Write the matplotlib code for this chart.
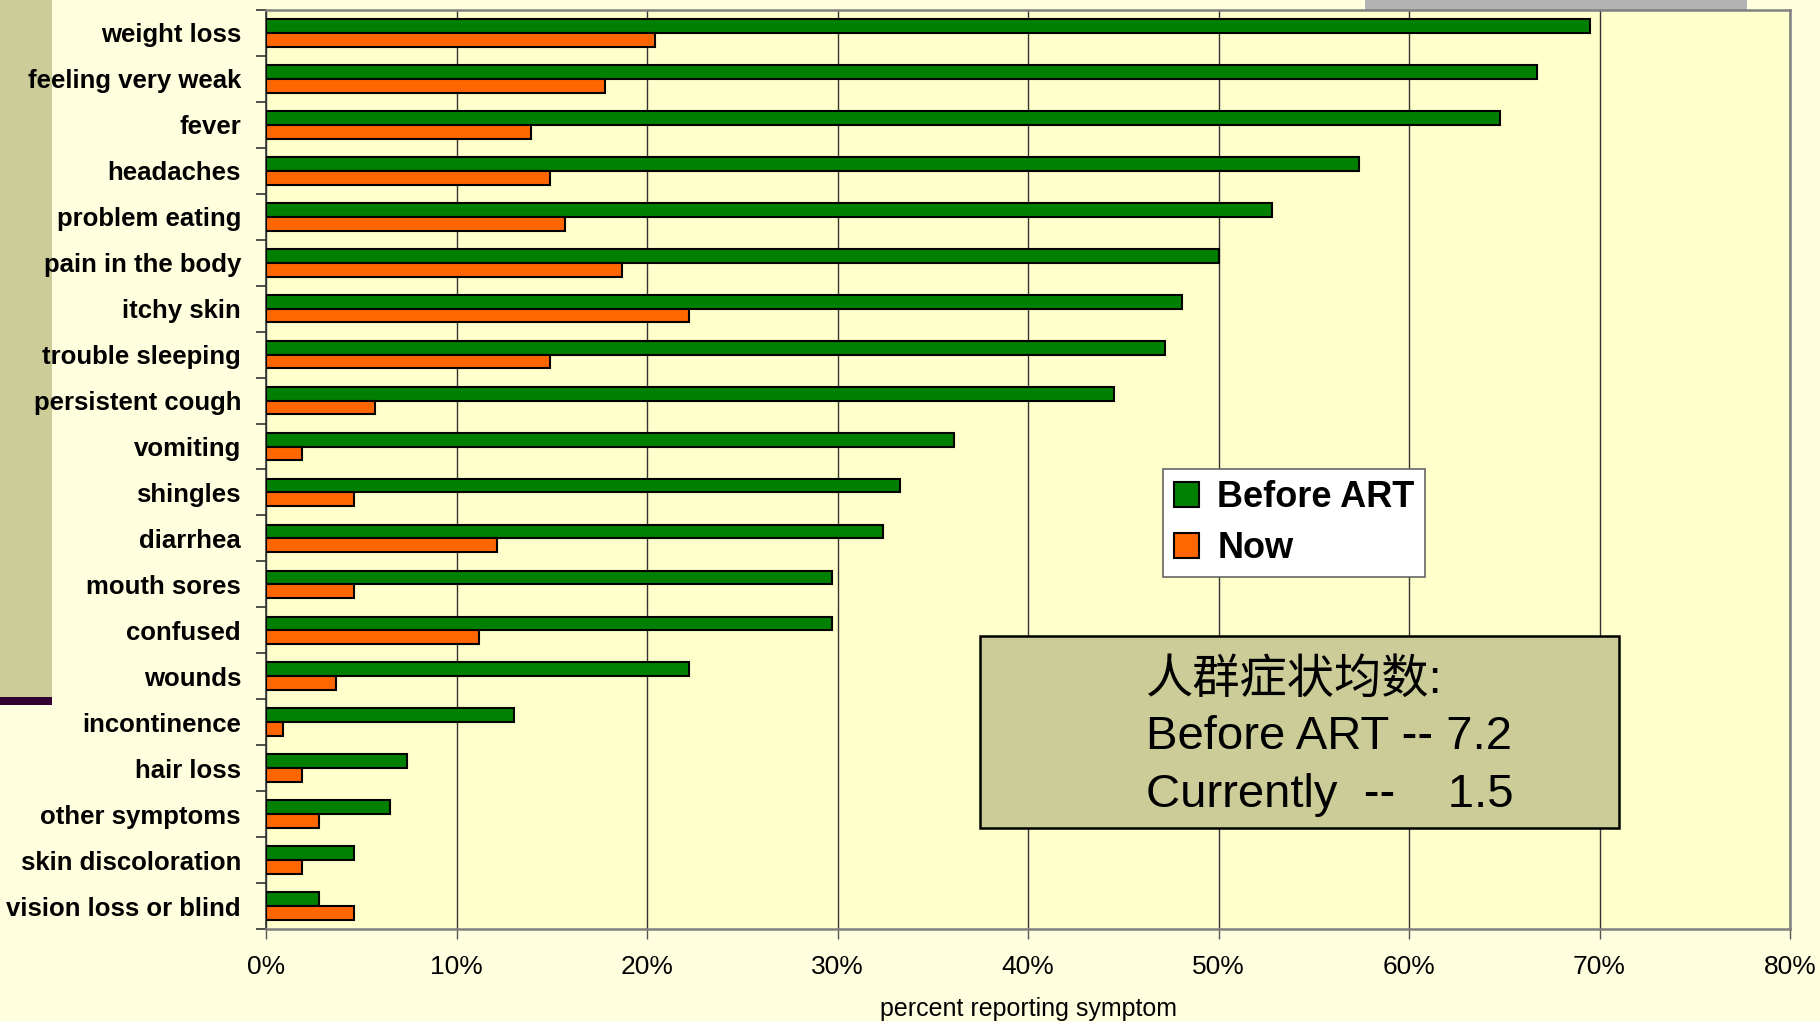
import matplotlib
matplotlib.use("Agg")
import matplotlib.pyplot as plt
import numpy as np
from matplotlib.patches import Rectangle

categories = ["weight loss", "feeling very weak", "fever", "headaches", "problem eating",
              "pain in the body", "itchy skin", "trouble sleeping", "persistent cough",
              "vomiting", "shingles", "diarrhea", "mouth sores", "confused", "wounds",
              "incontinence", "hair loss", "other symptoms", "skin discoloration",
              "vision loss or blind"]
before_art = [69.5, 66.7, 64.8, 57.4, 52.8, 50.0, 48.1, 47.2, 44.5, 36.1,
              33.3, 32.4, 29.7, 29.7, 22.2, 13.0, 7.4, 6.5, 4.6, 2.8]
now = [20.4, 17.8, 13.9, 14.9, 15.7, 18.7, 22.2, 14.9, 5.7, 1.9,
       4.6, 12.1, 4.6, 11.2, 3.7, 0.9, 1.9, 2.8, 1.9, 4.6]
xticks = [0, 10, 20, 30, 40, 50, 60, 70, 80]
xtick_labels = ["0%", "10%", "20%", "30%", "40%", "50%", "60%", "70%", "80%"]
series_names = ["Before ART", "Now"]
box_lines = ["人群症状均数:", "Before ART -- 7.2", "Currently  --    1.5"]

sans = ["Liberation Sans", "DejaVu Sans"]
mixed = ["Liberation Sans", "Noto Sans CJK SC", "DejaVu Sans"]

W, H = 1820, 1022
fig = plt.figure(figsize=(W / 100, H / 100), dpi=100, facecolor="#FFFFE0")

# decorative slide elements (behind everything)
fig.patches.append(Rectangle((0, 1 - 697 / H), 52 / W, 697 / H, transform=fig.transFigure,
                             facecolor="#CCCC99", edgecolor="none", zorder=-2))
fig.patches.append(Rectangle((0, 1 - 705 / H), 52 / W, 8 / H, transform=fig.transFigure,
                             facecolor="#330033", edgecolor="none", zorder=-2))
fig.patches.append(Rectangle((1365 / W, 1 - 10 / H), 382 / W, 10 / H, transform=fig.transFigure,
                             facecolor="#B2B2B2", edgecolor="none", zorder=-2))

left, right, top, bottom = 266 / W, 1790 / W, 1 - 10 / H, 1 - 929 / H
ax = fig.add_axes([left, bottom, right - left, top - bottom])
ax.set_facecolor("#FFFFCC")

y = np.arange(len(categories))
h = 0.3
ax.barh(y - h / 2, before_art, height=h, color="#008000", edgecolor="black",
        linewidth=1.5, label=series_names[0], zorder=3)
ax.barh(y + h / 2, now, height=h, color="#FF6600", edgecolor="black",
        linewidth=1.5, label=series_names[1], zorder=3)

ax.set_xlim(0, 80)
ax.set_ylim(len(categories) - 0.5, -0.5)
ax.set_xticks(xticks)
ax.set_xticklabels(xtick_labels, fontsize=19, family=sans)
ax.xaxis.grid(True, color="#333333", linewidth=1.0, zorder=1)
ax.set_axisbelow(True)

ax.set_yticks(y)
ax.set_yticklabels(categories, fontsize=18.5, fontweight="bold", family=sans)
ax.tick_params(axis="y", length=0, pad=18)
ax.set_yticks(np.arange(len(categories) + 1) - 0.5, minor=True)
ax.tick_params(axis="y", which="minor", length=7, width=1.2, color="#333333")
ax.tick_params(axis="x", length=7, width=1.0, color="#555555", pad=12)

ax.set_xlabel("percent reporting symptom", fontsize=18, family=sans, labelpad=13)

for s in ["top", "right", "bottom"]:
    ax.spines[s].set_color("#808080")
    ax.spines[s].set_linewidth(1.8)
ax.spines["left"].set_color("#333333")
ax.spines["left"].set_linewidth(1.2)

leg = ax.legend(loc="upper left",
                bbox_to_anchor=((1163 - 266) / (1790 - 266), 1 - (469 - 10) / (929 - 10)),
                borderaxespad=0, frameon=True, fancybox=False, framealpha=1,
                edgecolor="#666666",
                prop={"family": sans, "weight": "bold", "size": 26},
                handlelength=0.7, handleheight=0.7, handletextpad=0.5, borderpad=0.3,
                labelspacing=0.45)
leg.get_frame().set_linewidth(1.2)

# annotation box
bx0, by0, bx1, by1 = 980, 636, 1619, 828
fig.patches.append(Rectangle((bx0 / W, 1 - by1 / H), (bx1 - bx0) / W, (by1 - by0) / H,
                             transform=fig.transFigure, facecolor="#CCCC99",
                             edgecolor="black", linewidth=1.8, zorder=5))
line_y = [681, 737, 795]
for txt, yy in zip(box_lines, line_y):
    fig.text(1146 / W, 1 - yy / H, txt, fontsize=34, family=mixed, va="center", ha="left",
             zorder=6)

fig.savefig("out.png", dpi=100, facecolor=fig.get_facecolor())
